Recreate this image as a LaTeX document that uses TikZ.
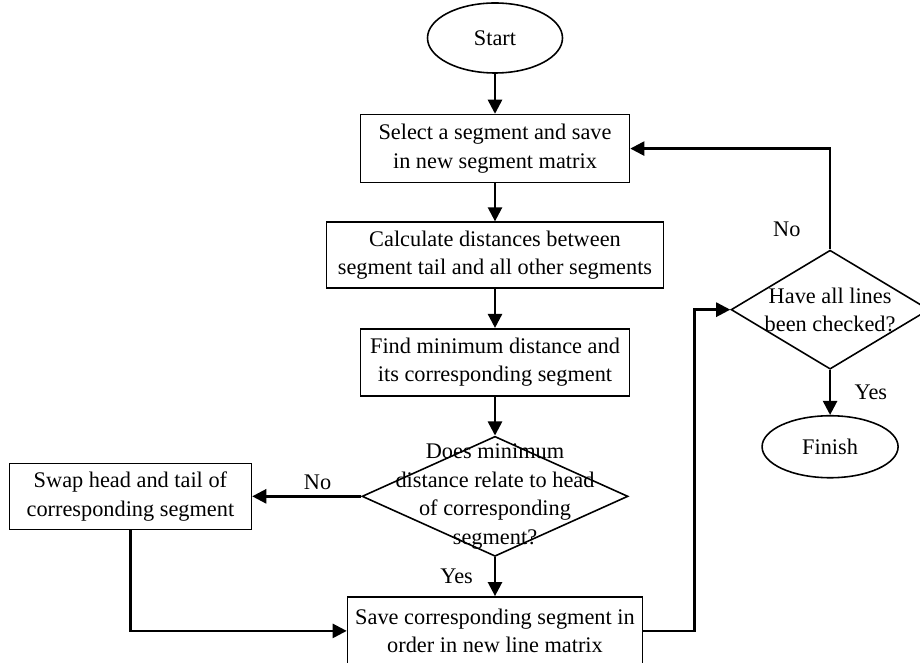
\documentclass[tikz,border=0pt]{standalone}
\usepackage{fontspec}
\setmainfont{Liberation Serif}
\usetikzlibrary{arrows.meta,positioning,shapes.geometric}

\begin{document}
\begin{tikzpicture}[node distance=0.8cm, font=\fontsize{12.7}{16.2}\selectfont, >={Triangle[length=8pt,width=8pt]}]
	\tikzstyle{terminal} = [ellipse, draw, line width=0.9pt, inner sep=0pt]
	\tikzstyle{process} = [rectangle, draw, line width=0.9pt, align=center, inner sep=0pt]
	\tikzstyle{decision} = [diamond, draw, line width=0.9pt, inner sep=0pt]
	\tikzstyle{flow} = [->, line width=1.4pt]

	\useasboundingbox (0,0) rectangle (18.4,-13.26);

	\node[terminal, minimum width=2.7cm, minimum height=1.4cm](start) at (9.9,-0.76){Start};
	\node[process, minimum width=5.38cm, minimum height=1.36cm, below =0.8cm of start](select){Select a segment and save\\in new segment matrix};
	\node[process, minimum width=6.74cm, minimum height=1.32cm, below =0.76cm of select](calc){Calculate distances between\\segment tail and all other segments};
	\node[process, minimum width=5.38cm, minimum height=1.34cm, below =0.78cm of calc](find){Find minimum distance and\\its corresponding segment};
	\node[decision, minimum width=5.32cm, minimum height=2.4cm, below =0.78cm of find,
		label={[align=center]center:Does minimum\\distance relate to head\\of corresponding\\segment?}](does){};
	\node[process, minimum width=5.9cm, minimum height=1.36cm, below =0.78cm of does](save){Save corresponding segment in\\order in new line matrix};
	\node[process, minimum width=4.84cm, minimum height=1.32cm, left =2.18cm of does](swap){Swap head and tail of\\corresponding segment};

	\node[decision, minimum width=3.96cm, minimum height=2.38cm, right =1.32cm of calc, yshift=-1.09cm,
		label={[align=center]center:Have all lines\\been checked?}](check){};
	\node[terminal, minimum width=2.72cm, minimum height=1.24cm, below =0.9cm of check](finish){Finish};

	\path[flow] (start) edge node {} (select)
		(select) edge node {} (calc)
		(calc) edge node {} (find)
		(find) edge node {} (does)
		(does) edge node[left=0.3cm] {Yes} (save)
		(does) edge node[above, pos=0.4] {No} (swap)
		(check) edge node[right=0.35cm] {Yes} (finish);
	\draw[flow] (swap.south) |- (save.west);
	\draw[flow] (save.east) -| ([xshift=-0.72cm]check.west) -- (check.west);
	\draw[flow] (check.north) |- node[left=0.45cm, pos=0.1] {No} (select.east);
\end{tikzpicture}
\end{document}
